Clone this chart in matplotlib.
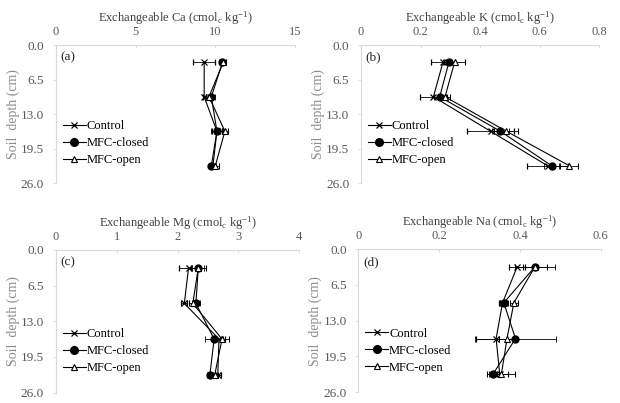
import matplotlib
matplotlib.use('Agg')
import matplotlib.pyplot as plt
from matplotlib.lines import Line2D

plt.rcParams['font.family'] = ['Liberation Serif', 'DejaVu Serif']
plt.rcParams['mathtext.fontset'] = 'custom'
plt.rcParams['mathtext.rm'] = 'Liberation Serif'
plt.rcParams['mathtext.it'] = 'Liberation Serif:italic'

# soil depths (cm), middle of each layer
depth = [3.25, 9.75, 16.25, 22.75]
series = ['Control', 'MFC-closed', 'MFC-open']

# Exchangeable Ca
ca_control = [9.3, 9.3, 10.1, 9.85]
ca_control_err = [0.7, 0.1, 0.3, 0.15]
ca_closed = [10.45, 9.75, 10.1, 9.75]
ca_closed_err = [0.2, 0.2, 0.4, 0.15]
ca_open = [10.5, 9.6, 10.6, 10.0]
ca_open_err = [0.15, 0.2, 0.2, 0.2]

# Exchangeable K
k_control = [0.275, 0.243, 0.435, 0.626]
k_control_err = [0.04, 0.045, 0.08, 0.07]
k_closed = [0.295, 0.264, 0.468, 0.640]
k_closed_err = [0.02, 0.02, 0.03, 0.025]
k_open = [0.314, 0.282, 0.488, 0.699]
k_open_err = [0.035, 0.015, 0.04, 0.03]

# Exchangeable Mg
mg_control = [2.18, 2.11, 2.68, 2.66]
mg_control_err = [0.15, 0.05, 0.1, 0.05]
mg_closed = [2.34, 2.30, 2.60, 2.53]
mg_closed_err = [0.1, 0.07, 0.15, 0.05]
mg_open = [2.34, 2.25, 2.73, 2.61]
mg_open_err = [0.12, 0.07, 0.12, 0.05]

# Exchangeable Na
na_control = [0.393, 0.357, 0.341, 0.35]
na_control_err = [0.02, 0.01, 0.05, 0.02]
na_closed = [0.437, 0.360, 0.389, 0.333]
na_closed_err = [0.05, 0.01, 0.1, 0.01]
na_open = [0.437, 0.385, 0.368, 0.354]
na_open_err = [0.03, 0.01, 0.02, 0.035]

panels = [
    ('(a)', 'Ca', [0, 5, 10, 15], ['0', '5', '10', '15'],
     [(ca_control, ca_control_err), (ca_closed, ca_closed_err), (ca_open, ca_open_err)]),
    ('(b)', 'K', [0, 0.2, 0.4, 0.6, 0.8], ['0', '0.2', '0.4', '0.6', '0.8'],
     [(k_control, k_control_err), (k_closed, k_closed_err), (k_open, k_open_err)]),
    ('(c)', 'Mg', [0, 1, 2, 3, 4], ['0', '1', '2', '3', '4'],
     [(mg_control, mg_control_err), (mg_closed, mg_closed_err), (mg_open, mg_open_err)]),
    ('(d)', 'Na', [0, 0.2, 0.4, 0.6], ['0', '0.2', '0.4', '0.6'],
     [(na_control, na_control_err), (na_closed, na_closed_err), (na_open, na_open_err)]),
]

# axes boxes in figure fractions [left, bottom, width, height]
boxes = [
    [0.0903, 0.5459, 0.3855, 0.3424],
    [0.5823, 0.5459, 0.3844, 0.3424],
    [0.0903, 0.0256, 0.3924, 0.3545],
    [0.5782, 0.0266, 0.3906, 0.3555],
]

styles = [
    dict(marker='x', markersize=5, mfc='black', mec='black', mew=0.9),
    dict(marker='o', markersize=5, mfc='black', mec='black'),
    dict(marker='^', markersize=5, mfc='white', mec='black', mew=0.8),
]
legend_sizes = [4.5, 5.5, 4]

fig = plt.figure(figsize=(6.2, 4.03), dpi=100)

for (tag, elem, xt, xtl, data), box in zip(panels, boxes):
    ax = fig.add_axes(box)
    for name, (vals, err), st in zip(series, data, styles):
        ax.errorbar(vals, depth, xerr=err, color='black', lw=0.8,
                    elinewidth=0.6, capsize=2.5, capthick=0.6, **st)
    ax.set_xlim(xt[0], xt[-1])
    ax.set_ylim(26, 0)
    ax.set_xticks(xt)
    ax.set_xticklabels(xtl)
    ax.set_yticks([0, 6.5, 13, 19.5, 26])
    ax.set_yticklabels(['0.0', '6.5', '13.0', '19.5', '26.0'])
    ax.xaxis.tick_top()
    ax.xaxis.set_label_position('top')
    ax.set_xlabel('Exchangeable ' + elem + r' (cmol$_\mathrm{c}$ kg$^{\mathrm{-1}}$)',
                  fontsize=9, color='#404040', labelpad=3)
    ax.set_ylabel('Soil  depth (cm)', fontsize=10, color='#8c8c8c', labelpad=1)
    ax.tick_params(axis='x', labelsize=9, labelcolor='#595959', color='#d9d9d9',
                   direction='in', length=2, width=0.6, pad=5)
    ax.tick_params(axis='y', labelsize=9.5, labelcolor='#595959', color='#d9d9d9',
                   direction='out', length=2.5, width=0.6, pad=6)
    for s in ['right', 'bottom']:
        ax.spines[s].set_visible(False)
    for s in ['left', 'top']:
        ax.spines[s].set_color('#d9d9d9')
        ax.spines[s].set_linewidth(0.8)
    ax.text(0.02, 0.91, tag, transform=ax.transAxes, fontsize=9.5,
            va='center', ha='left', color='#262626')
    handles = [Line2D([], [], color='black', lw=0.8, **dict(st, markersize=ms))
               for st, ms in zip(styles, legend_sizes)]
    ax.legend(handles, series, loc='center left', bbox_to_anchor=(0.028, 0.29),
              frameon=False, fontsize=9, handlelength=1.85, handletextpad=0.05,
              borderpad=0, borderaxespad=0, labelspacing=0.4)

fig.savefig('out.png', dpi=100)
